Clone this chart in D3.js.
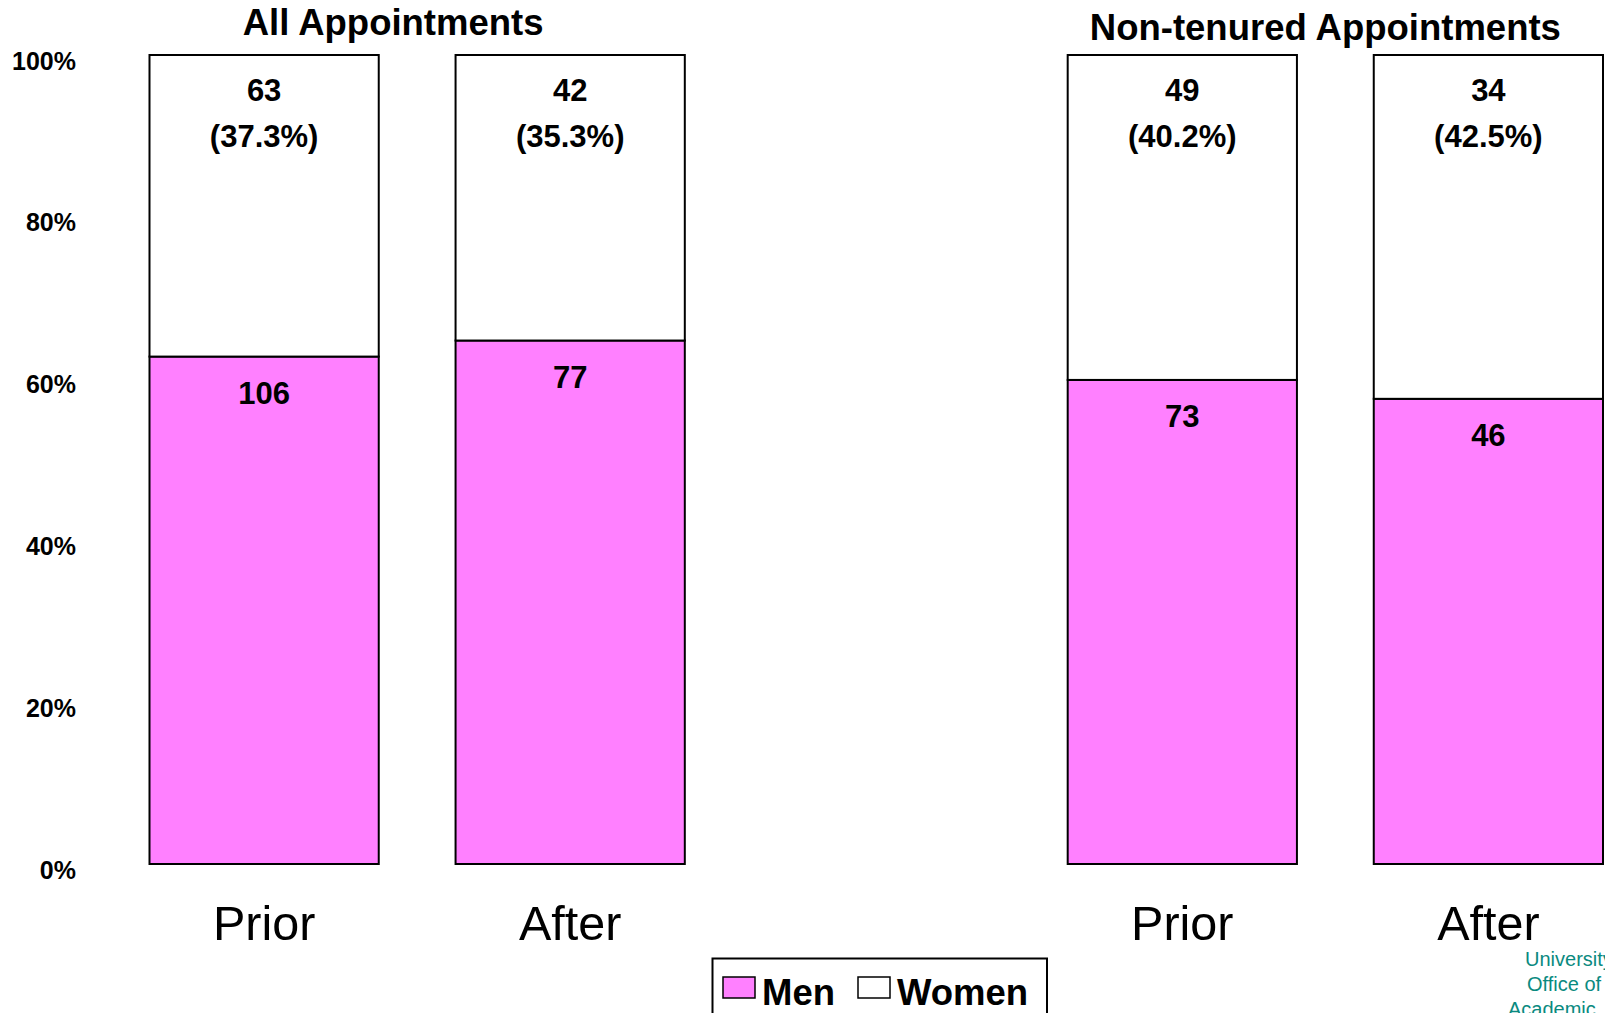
<!DOCTYPE html>
<html>
<head>
<meta charset="utf-8">
<script src="https://cdn.jsdelivr.net/npm/d3@7"></script>
<style>
  body { margin: 0; background: #fff; }
  svg { display: block; font-family: "Liberation Sans", Arial, sans-serif; }
</style>
</head>
<body>
<svg width="1605" height="1013"></svg>
<script>
// data
var groups = ["All Appointments", "Non-tenured Appointments"];
var periods = ["Prior", "After"];
var men = [[106, 77], [73, 46]];
var women = [[63, 42], [49, 34]];
var yTicks = [0, 0.2, 0.4, 0.6, 0.8, 1];
var legendKeys = ["Men", "Women"];
var footer = ["University", "Office of", "Academic"];

var pink = "#ff80ff";

var svg = d3.select("svg");

var y = d3.scaleLinear().domain([0, 1]).range([864, 55]);
var gx = d3.scaleBand().domain(groups).range([149.5, 1603]).paddingInner(0.417);
var px = d3.scaleBand().domain(periods).range([0, gx.bandwidth()]).paddingInner(0.251);

// y axis, labels only
var yAxis = d3.axisLeft(y).tickValues(yTicks).tickFormat(d3.format(".0%")).tickSize(0).tickPadding(0);
var yg = svg.append("g").attr("transform", "translate(76,0)").call(yAxis);
yg.select(".domain").remove();
yg.selectAll("text")
	.attr("dy", "0.56em")
	.style("font-family", "Liberation Sans, Arial, sans-serif")
	.style("font-size", "25px")
	.style("font-weight", "bold")
	.attr("fill", "#000");

var titleShift = [-24, -10];
var titleBase = [35, 40];

groups.forEach(function(g, gi){
	var panel = svg.append("g").attr("transform", "translate(" + gx(g) + ",0)");

	panel.append("text")
		.attr("x", gx.bandwidth() / 2 + titleShift[gi])
		.attr("y", titleBase[gi])
		.attr("text-anchor", "middle")
		.style("font-size", "36.5px")
		.style("font-weight", "bold")
		.text(g);

	periods.forEach(function(p, pi){
		var m = men[gi][pi], w = women[gi][pi];
		var total = m + w;
		var share = m / total;
		var x0 = px(p), bw = px.bandwidth();

		// men segment
		panel.append("rect")
			.attr("x", x0).attr("y", y(share))
			.attr("width", bw).attr("height", y(0) - y(share))
			.attr("fill", pink).attr("stroke", "#000").attr("stroke-width", 2);
		// women segment
		panel.append("rect")
			.attr("x", x0).attr("y", y(1))
			.attr("width", bw).attr("height", y(share) - y(1))
			.attr("fill", "#fff").attr("stroke", "#000").attr("stroke-width", 2);

		panel.append("text")
			.attr("x", x0 + bw / 2).attr("y", y(share) + 47)
			.attr("text-anchor", "middle")
			.style("font-size", "31px").style("font-weight", "bold")
			.text(m);
		panel.append("text")
			.attr("x", x0 + bw / 2).attr("y", y(1) + 46)
			.attr("text-anchor", "middle")
			.style("font-size", "31px").style("font-weight", "bold")
			.text(w);
		panel.append("text")
			.attr("x", x0 + bw / 2).attr("y", y(1) + 92)
			.attr("text-anchor", "middle")
			.style("font-size", "31px").style("font-weight", "bold")
			.text("(" + d3.format(".1f")(w / total * 100) + "%)");

		panel.append("text")
			.attr("x", x0 + bw / 2).attr("y", 940)
			.attr("text-anchor", "middle")
			.style("font-size", "48.5px")
			.text(p);
	});
});

// legend
var lg = svg.append("g");
lg.append("rect")
	.attr("x", 712.5).attr("y", 958.5).attr("width", 334.5).attr("height", 70)
	.attr("fill", "#fff").attr("stroke", "#000").attr("stroke-width", 2);
var legX = [723, 858];
legendKeys.forEach(function(k, i){
	lg.append("rect")
		.attr("x", legX[i]).attr("y", 977).attr("width", 32).attr("height", 21)
		.attr("fill", i == 0 ? pink : "#fff").attr("stroke", "#000").attr("stroke-width", 1.5);
	lg.append("text")
		.attr("x", legX[i] + 39).attr("y", 1005)
		.style("font-size", "36.5px").style("font-weight", "bold")
		.text(k);
});

// footer note (runs off the page edge as in the original)
var fx = [1525, 1527, 1508];
footer.forEach(function(t, i){
	svg.append("text")
		.attr("x", fx[i]).attr("y", 966 + i * 25)
		.attr("fill", "#0a8a80")
		.style("font-size", "20px")
		.text(t);
});
</script>
</body>
</html>
